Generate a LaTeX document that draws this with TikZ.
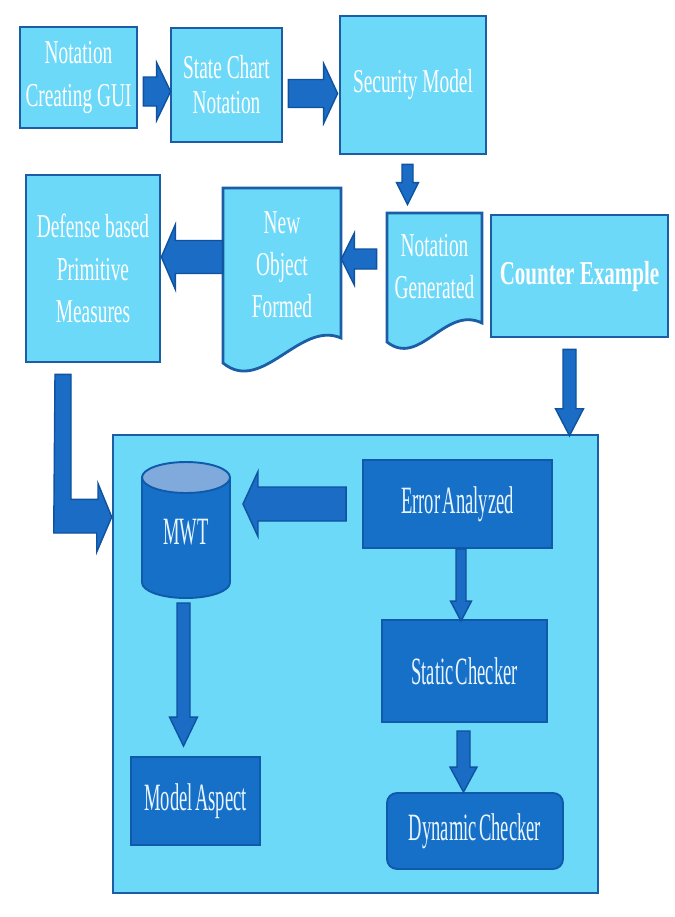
\documentclass[tikz,border=0pt]{standalone}
\usepackage{fontspec}
\usetikzlibrary{calc}
\newfontfamily\topfont[FakeStretch=0.58]{Liberation Serif}
\newfontfamily\cefont[FakeStretch=0.63]{Liberation Serif}
\newfontfamily\lowfont[FakeStretch=0.48,WordSpace=0.5]{Liberation Serif}
\definecolor{lightfill}{HTML}{6CD9F8}
\definecolor{boxline}{HTML}{1B5EA6}
\definecolor{darkfill}{HTML}{1770C8}
\definecolor{darkline}{HTML}{0F5AAA}
\definecolor{arrowfill}{HTML}{1A6CC4}
\definecolor{arrowline}{HTML}{0F52A0}
\definecolor{cyltop}{HTML}{80AADC}
\definecolor{lowtext}{HTML}{EAF6FF}
\tikzset{
  lightbox/.style={draw=boxline, line width=1.6pt, fill=lightfill, text=white, align=center, inner sep=0pt, font=\topfont\fontsize{19}{24}\selectfont},
  doctext/.style={text=white, align=center, inner sep=0pt, font=\topfont\fontsize{19}{24}\selectfont},
  docline/.style={draw=boxline, line width=1.6pt, fill=lightfill},
  darkbox/.style={draw=darkline, line width=1.1pt, fill=darkfill, text=lowtext, inner sep=0pt, font=\lowfont\fontsize{22}{26}\selectfont},
  blockarrow/.style={draw=arrowline, line width=0.8pt, fill=arrowfill},
  fat/.style n args={3}{blockarrow, to path={
    let \p1=(\tikztostart), \p2=(\tikztotarget), \n1={atan2(\y2-\y1,\x2-\x1)} in
    ($(\p1)+(\n1+90:#1)$) -- ($(\p2)+(\n1+180:#3)+(\n1+90:#1)$) -- ($(\p2)+(\n1+180:#3)+(\n1+90:#2)$)
    -- (\p2) -- ($(\p2)+(\n1+180:#3)+(\n1-90:#2)$) -- ($(\p2)+(\n1+180:#3)+(\n1-90:#1)$)
    -- ($(\p1)+(\n1-90:#1)$) -- cycle}}
}
\begin{document}
\begin{tikzpicture}[x=0.02cm,y=0.02cm]
\useasboundingbox (0,0) rectangle (674,-917);
\node[draw=boxline, line width=1.5pt, fill=lightfill, minimum width=9.7cm, minimum height=9.16cm] (cont) at (355.5,-664) {};
\draw[docline] (223,-188) -- (341,-188) -- (341,-338) .. controls (300,-320) and (262,-395) .. (223,-363) -- cycle;
\draw[docline] (387,-213) -- (482,-213) -- (482,-323) .. controls (445,-305) and (420,-368) .. (387,-342) -- cycle;
\draw[draw=darkline, line width=1.1pt, fill=darkfill] (142,-477.5) -- (142,-582.5) arc[start angle=180, end angle=360, x radius=44, y radius=15.5] -- (230,-477.5) -- cycle;
\draw[draw=darkline, line width=1.1pt, fill=cyltop] (186,-477.5) ellipse [x radius=44, y radius=15.5];

\node[lightbox, minimum width=2.34cm, minimum height=2.02cm] (gui) at (78.5,-77.5) {Notation\\Creating GUI};
\node[lightbox, minimum width=2.22cm, minimum height=2.28cm] (chart) at (226.5,-85) {State Chart\\[-4pt]Notation};
\node[lightbox, minimum width=2.92cm, minimum height=2.76cm] (secmod) at (413,-85) {Security Model};
\node[lightbox, minimum width=2.68cm, minimum height=3.74cm] (defense) at (93,-268.5) {Defense based\\Primitive\\Measures};
\node[doctext, minimum width=2.36cm, minimum height=3.08cm] (newobj) at (282,-265) {New\\Object\\Formed};
\node[doctext, minimum width=1.9cm, minimum height=2.14cm] (notgen) at (434.5,-266.5) {Notation\\Generated};
\node[lightbox, minimum width=3.54cm, minimum height=2.44cm] (counter) at (579.5,-276) {\cefont\bfseries Counter Example};
\node[darkbox, draw=none, fill=none, minimum width=1.76cm, minimum height=2.72cm] (mwt) at (186,-532) {MWT};
\node[darkbox, minimum width=3.78cm, minimum height=1.76cm] (error) at (457.5,-504) {Error Analyzed};
\node[darkbox, minimum width=3.3cm, minimum height=2.04cm] (static) at (464.5,-671) {Static Checker};
\node[darkbox, rounded corners=0.2cm, minimum width=3.52cm, minimum height=1.52cm] (dynamic) at (475,-831) {Dynamic Checker};
\node[darkbox, minimum width=2.58cm, minimum height=1.76cm] (model) at (195.5,-801) {Model Aspect};

\draw[fat={14.5}{29}{14}] ($(gui.east)+(5,-14)$) to ($(chart.west)+(1,-6.5)$);
\draw[fat={14}{30}{14}] ($(chart.east)+(5,-8.5)$) to ($(secmod.west)+(-1,-8.5)$);
\draw[fat={5.5}{11}{22}] ($(secmod.south)+(-5.5,-9)$) to ($(notgen.north)+(-27,8)$);
\draw[fat={10}{26}{13}] ($(notgen.west)+(-10,7.5)$) to ($(newobj.east)+(0,6)$);
\draw[fat={16.5}{32.5}{14}] ($(newobj.west)+(0,8)$) to ($(defense.east)+(0,11.5)$);
\draw[blockarrow] ($(defense.south)+(-38,-11)$) -- ++(16,0) -- ++(0,-125) -- ++(27,0) -- ++(0,16)
  -- ($(cont.west)+(0,147)$) -- ++(-15,-35) -- ++(0,19) -- ++(-43,0) -- cycle;
\draw[fat={6.5}{14}{27}] ($(counter.south)+(-10,-11)$) to ($(counter.south |- cont.north)+(-10,-2)$);
\draw[fat={17}{32.5}{15}] ($(error.west)+(-16,0)$) to ($(mwt.east |- error.west)+(12,0)$);
\draw[fat={5}{10.5}{20}] ($(error.south)+(3.5,0)$) to ($(error.south |- static.north)+(3.5,-2)$);
\draw[fat={6.5}{13.5}{25}] ($(static.south)+(-1,-8)$) to ($(static.south |- dynamic.north)+(-1,0)$);
\draw[fat={6.5}{14}{29}] ($(mwt.south)+(-2.5,-2)$) to ($(mwt.south |- model.north)+(-2.5,10)$);
\end{tikzpicture}
\end{document}
